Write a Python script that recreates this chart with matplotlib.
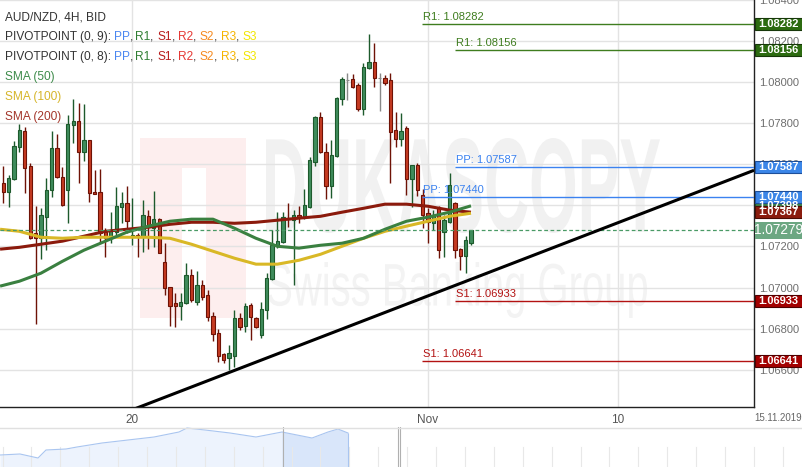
import numpy as np
import matplotlib
matplotlib.use("Agg")
import matplotlib.pyplot as plt
import matplotlib.transforms as mtransforms
from matplotlib.patches import Rectangle, PathPatch
from matplotlib.textpath import TextPath
from matplotlib.font_manager import FontProperties

plt.rcParams['font.family'] = ['Liberation Sans', 'DejaVu Sans']

# ── Candle data (AUD/NZD 4H) ─────────────────────────────────
opens = [1.07508, 1.07464, 1.07528, 1.07683, 1.07761, 1.07591, 1.07265, 1.07240, 1.07343, 1.07474,
         1.07679, 1.07537, 1.07474, 1.07791, 1.07810, 1.07659, 1.07718, 1.07464, 1.07464, 1.07270,
         1.07245, 1.07270, 1.07391, 1.07411, 1.07245, 1.07255, 1.07245, 1.07347, 1.07289, 1.07333,
         1.07123, 1.07002, 1.06924, 1.06909, 1.06924, 1.07060, 1.06929, 1.07011, 1.06963, 1.06860,
         1.06778, 1.06675, 1.06656, 1.06666, 1.06851, 1.06812, 1.06914, 1.06851, 1.06768, 1.06890,
         1.07041, 1.07201, 1.07221, 1.07338, 1.07328, 1.07352, 1.07343, 1.07391, 1.07610, 1.07830,
         1.07659, 1.07494, 1.07640, 1.07917, 1.08010, 1.08015, 1.07985, 1.07869, 1.08068, 1.08097,
         1.08019, 1.08019, 1.08010, 1.07766, 1.07722, 1.07776, 1.07528, 1.07596, 1.07450, 1.07362,
         1.07313, 1.07391, 1.07270, 1.07318, 1.07411, 1.07187, 1.07153, 1.07216]
highs = [1.07591, 1.07547, 1.07713, 1.07795, 1.07781, 1.07606, 1.07396, 1.07386, 1.07532, 1.07761,
         1.07747, 1.07586, 1.07839, 1.07917, 1.07898, 1.07893, 1.07718, 1.07571, 1.07576, 1.07289,
         1.07367, 1.07489, 1.07464, 1.07494, 1.07435, 1.07265, 1.07425, 1.07377, 1.07469, 1.07338,
         1.07216, 1.07002, 1.06972, 1.06972, 1.07119, 1.07089, 1.07080, 1.07036, 1.06987, 1.06880,
         1.06797, 1.06680, 1.06719, 1.06890, 1.06875, 1.06924, 1.06924, 1.06856, 1.06929, 1.07070,
         1.07279, 1.07367, 1.07367, 1.07411, 1.07377, 1.07396, 1.07479, 1.07635, 1.07834, 1.07854,
         1.07703, 1.07718, 1.07927, 1.08024, 1.08044, 1.08039, 1.07995, 1.08093, 1.08234, 1.08190,
         1.08044, 1.08034, 1.08044, 1.07854, 1.07849, 1.07786, 1.07596, 1.07606, 1.07479, 1.07386,
         1.07377, 1.07396, 1.07352, 1.07557, 1.07416, 1.07192, 1.07250, 1.07279]
lows = [1.07411, 1.07391, 1.07523, 1.07659, 1.07459, 1.07235, 1.06821, 1.07138, 1.07182, 1.07440,
        1.07532, 1.07396, 1.07313, 1.07703, 1.07508, 1.07615, 1.07416, 1.07455, 1.07216, 1.07148,
        1.07216, 1.07245, 1.07313, 1.07265, 1.07206, 1.07148, 1.07172, 1.07187, 1.07196, 1.07167,
        1.06963, 1.06812, 1.06807, 1.06841, 1.06919, 1.06929, 1.06914, 1.06938, 1.06836, 1.06739,
        1.06636, 1.06632, 1.06597, 1.06612, 1.06792, 1.06783, 1.06744, 1.06802, 1.06753, 1.06846,
        1.07036, 1.07192, 1.07216, 1.07294, 1.07011, 1.07313, 1.07333, 1.07386, 1.07591, 1.07654,
        1.07430, 1.07435, 1.07635, 1.07888, 1.07912, 1.07971, 1.07859, 1.07839, 1.08063, 1.07976,
        1.07859, 1.07985, 1.07508, 1.07683, 1.07688, 1.07450, 1.07391, 1.07445, 1.07289, 1.07216,
        1.07279, 1.07143, 1.07148, 1.07313, 1.07143, 1.07084, 1.07070, 1.07206]
closes = [1.07464, 1.07532, 1.07688, 1.07766, 1.07581, 1.07240, 1.07240, 1.07352, 1.07474, 1.07679,
          1.07537, 1.07401, 1.07795, 1.07810, 1.07659, 1.07718, 1.07459, 1.07455, 1.07265, 1.07240,
          1.07279, 1.07396, 1.07411, 1.07323, 1.07255, 1.07245, 1.07352, 1.07294, 1.07333, 1.07167,
          1.06997, 1.06909, 1.06909, 1.06929, 1.07060, 1.06938, 1.07011, 1.06953, 1.06856, 1.06773,
          1.06666, 1.06646, 1.06680, 1.06851, 1.06807, 1.06909, 1.06856, 1.06807, 1.06895, 1.07045,
          1.07206, 1.07226, 1.07343, 1.07333, 1.07352, 1.07343, 1.07401, 1.07620, 1.07830, 1.07659,
          1.07494, 1.07644, 1.07922, 1.08015, 1.08010, 1.07976, 1.07869, 1.08073, 1.08097, 1.08019,
          1.08019, 1.07995, 1.07757, 1.07722, 1.07761, 1.07528, 1.07596, 1.07474, 1.07352, 1.07318,
          1.07352, 1.07182, 1.07328, 1.07498, 1.07182, 1.07153, 1.07231, 1.07279]

# ── Moving averages, read at candle positions ────────────────
sma_idx = [-0.6, 3, 7, 11, 15, 19, 23, 27, 31, 35, 39, 43, 47, 51, 55, 59, 63, 67, 71, 75, 79, 83, 87]
sma50 = [1.07007, 1.07031, 1.07070, 1.07128, 1.07182, 1.07226, 1.07270, 1.07299, 1.07323, 1.07333,
         1.07333, 1.07289, 1.07240, 1.07201, 1.07192, 1.07206, 1.07216, 1.07240, 1.07284, 1.07323,
         1.07343, 1.07367, 1.07398]
sma100 = [1.07284, 1.07274, 1.07245, 1.07240, 1.07245, 1.07245, 1.07245, 1.07245, 1.07240, 1.07211,
          1.07177, 1.07143, 1.07114, 1.07114, 1.07133, 1.07162, 1.07201, 1.07240, 1.07274, 1.07299,
          1.07323, 1.07347, 1.07362]
sma200 = [1.07187, 1.07196, 1.07211, 1.07226, 1.07250, 1.07274, 1.07284, 1.07294, 1.07308, 1.07318,
          1.07318, 1.07313, 1.07318, 1.07328, 1.07338, 1.07347, 1.07367, 1.07386, 1.07406, 1.07406,
          1.07396, 1.07377, 1.07367]

# ── Pivot points and annotations ─────────────────────────────
pivot_names = ['R1', 'PP', 'S1', 'R1', 'PP', 'S1']
pivot_levels = [1.08282, 1.07440, 1.06641, 1.08156, 1.07587, 1.06933]
pivot_start = [77.9, 77.9, 77.9, 84.0, 84.0, 84.0]
trend_x = [24.3, 139.64]
trend_y = [1.06408, 1.07571]
last_price = 1.07279

tick_pos = [23.9, 79.0, 114.3]
tick_labels = ['20', 'Nov', '10']

# navigator mini-series
nav_x = [0, 20, 38, 46, 66, 77, 102, 128, 154, 179, 187, 205, 230, 256, 282, 297, 312, 328, 338, 348]
nav_h = [12, 13, 9, 17, 18, 20, 24, 27, 30, 35, 39, 37, 34, 30, 35, 32, 29, 35, 38, 34]

# ── Colours ──────────────────────────────────────────────────
UP_FILL, UP_EDGE = '#3f8c5c', '#1d5a2c'
DN_FILL, DN_EDGE = '#c53b22', '#6e1206'
PIV_COL = {'R1': '#3f7d1f', 'PP': '#3b82f0', 'S1': '#b31212'}

W, H = 803, 467
fig = plt.figure(figsize=(W / 100, H / 100), dpi=100)
ax = fig.add_axes([0, 60 / H, 754 / W, 407 / H])
ax.set_facecolor('white')

# ── Watermark ────────────────────────────────────────────────
def px_box(x0, y0, x1, y1, color):
    r = Rectangle((x0, H - y1), x1 - x0, y1 - y0, transform=mtransforms.IdentityTransform(),
                  facecolor=color, edgecolor='none', zorder=0.1)
    ax.add_artist(r)

def px_text(s, x0, y0, x1, y1, color, weight):
    tp = TextPath((0, 0), s, size=50, prop=FontProperties(family='Liberation Sans', weight=weight))
    e = tp.get_extents()
    tr = (mtransforms.Affine2D().translate(-e.x0, -e.y0)
          .scale((x1 - x0) / e.width, (y1 - y0) / e.height).translate(x0, H - y1))
    ax.add_artist(PathPatch(tp, transform=tr, facecolor=color, edgecolor='none', zorder=0.2))

px_box(140, 138, 246, 318, '#fdeeee')
px_box(182, 168, 206, 318, '#ffffff')
px_text('DUKASCOPY', 266, 138, 660, 233, '#f1f1f1', 'bold')
px_text('Swiss Banking Group', 268, 262, 647, 318, '#f3f3f3', 'normal')

# ── Candles ──────────────────────────────────────────────────
idx = np.arange(len(opens))
o, h, l, c = map(np.array, (opens, highs, lows, closes))
fills, edges = [], []
for oo, cc in zip(o, c):
    if cc > oo:
        fills.append(UP_FILL); edges.append(UP_EDGE)
    elif cc < oo:
        fills.append(DN_FILL); edges.append(DN_EDGE)
    else:
        fills.append('#888888'); edges.append('#888888')
body_lo = np.minimum(o, c)
body_h = np.maximum(np.abs(c - o), 0.00003)
ax.vlines(idx, l, h, colors=edges, linewidth=1.0, zorder=2)
ax.bar(idx, body_h, bottom=body_lo, width=0.62, color=fills, edgecolor=edges,
       linewidth=0.8, zorder=3)

# ── SMA lines ────────────────────────────────────────────────
ax.plot(sma_idx, sma200, color='#8b1a0c', lw=2.2, zorder=4, solid_capstyle='butt')
ax.plot(sma_idx, sma100, color='#d9b826', lw=2.2, zorder=4, solid_capstyle='butt')
ax.plot(sma_idx, sma50, color='#3a8040', lw=2.2, zorder=4, solid_capstyle='butt')

# ── Pivot levels ─────────────────────────────────────────────
xmax = 139.64
for name, lvl, x0 in zip(pivot_names, pivot_levels, pivot_start):
    col = PIV_COL[name]
    ax.hlines(lvl, x0, xmax, colors=col, linewidth=1.0, zorder=5)
    ax.annotate(f'{name}: {lvl:.5f}', (x0, lvl), xytext=(0.5, 1.5), textcoords='offset points',
                color=col, fontsize=8, va='bottom', ha='left', zorder=5)

# current price + trend line
ax.axhline(last_price, color='#4a9a66', lw=0.9, ls=(0, (3, 2)), zorder=4)
ax.plot(trend_x, trend_y, color='black', lw=2.2, zorder=6, solid_capstyle='butt')

# ── Axes styling ─────────────────────────────────────────────
YLIM = (1.064185, 1.084002)
ax.set_xlim(-0.614, xmax)
ax.set_ylim(*YLIM)
ax.set_yticks(np.arange(1.066, 1.0845, 0.002))
ax.yaxis.set_major_formatter(matplotlib.ticker.FormatStrFormatter('%.5f'))
ax.yaxis.tick_right()
ax.tick_params(axis='y', length=0, pad=4, labelsize=8, labelcolor='#6e6e6e')
ax.set_xticks(tick_pos)
ax.set_xticklabels(tick_labels)
ax.tick_params(axis='x', length=0, pad=5, labelsize=8.5, labelcolor='#555555')
ax.set_axisbelow(True)
ax.grid(True, color='#e3e3e3', lw=1)
for s in ('left', 'top'):
    ax.spines[s].set_visible(False)
for s in ('right', 'bottom'):
    ax.spines[s].set_color('#222222')
    ax.spines[s].set_linewidth(1.0)

# ── Right-axis price boxes ───────────────────────────────────
blend = mtransforms.blended_transform_factory(ax.transAxes, ax.transData)
box_vals = [1.08282, 1.08156, 1.07587, 1.07398, 1.07440, 1.07367, 1.06933, 1.06641]
box_face = ['#2c6b10', '#2c6b10', '#3b86e8', '#3a8047', '#3b86e8', '#8a1c0e', '#a30000', '#a30000']
box_edge = ['#17380a', '#17380a', '#1d4f9a', '#1f4d27', '#1d4f9a', '#4a0d05', '#4f0000', '#4f0000']
px_h = 12 / 20550
for v, fc, ec in zip(box_vals, box_face, box_edge):
    ax.add_patch(Rectangle((1.0007, v - px_h / 2), 0.0637, px_h, transform=blend, facecolor=fc,
                           edgecolor=ec, lw=0.8, clip_on=False, zorder=10))
    ax.text(1.0325, v, f'{v:.5f}', transform=blend, ha='center', va='center', color='white',
            fontsize=8, fontweight='bold', clip_on=False, zorder=11)
cur_h = 17 / 20550
ax.add_patch(Rectangle((1.0007, last_price - cur_h / 2), 0.0637, cur_h, transform=blend,
                       facecolor='#6ca782', edgecolor='none', clip_on=False, zorder=10))
ax.text(1.0325, last_price, f'{last_price:.5f}', transform=blend, ha='center', va='center',
        color='white', fontsize=9.8, clip_on=False, zorder=11)
ax.set_ylim(*YLIM)

fig.text(778 / W, 1 - 418 / H, '15.11.2019', ha='center', va='center', fontsize=7, color='#666666')

# ── Legend text at top left ──────────────────────────────────
r = fig.canvas.get_renderer()
ident = mtransforms.IdentityTransform()

def width_of(s, size):
    t = fig.text(0, 0, s + '|', fontsize=size, transform=ident)
    b = fig.text(0, 0, '|', fontsize=size, transform=ident)
    w = t.get_window_extent(r).width - b.get_window_extent(r).width
    t.remove(); b.remove()
    return w

def legend_line(baseline, parts, size=8.6):
    prefix = ''
    for s, col in parts:
        x = 5 + (width_of(prefix, size) if prefix else 0)
        fig.text(x, H - baseline, s, color=col, fontsize=size, va='baseline', ha='left',
                 transform=ident, zorder=20)
        prefix += s

GREY = '#333333'
piv_parts = [('PP', '#4a86f0'), (', ', GREY), ('R1', '#2f7d32'), (', ', GREY), ('S1', '#b71c1c'),
             (', ', GREY), ('R2', '#e53935'), (', ', GREY), ('S2', '#f58a1f'), (', ', GREY),
             ('R3', '#f5b400'), (', ', GREY), ('S3', '#f2e600')]
legend_line(20, [('AUD/NZD, 4H, BID', GREY)])
legend_line(40, [('PIVOTPOINT (0, 9): ', GREY)] + piv_parts)
legend_line(60, [('PIVOTPOINT (0, 8): ', GREY)] + piv_parts)
legend_line(80, [('SMA (50)', '#3d8b4a')])
legend_line(100, [('SMA (100)', '#d6b52a')])
legend_line(120, [('SMA (200)', '#a3362a')])

# ── Navigator ────────────────────────────────────────────────
nav = fig.add_axes([0, 0, 1, 40 / H])
nav.set_xlim(0, W)
nav.set_ylim(0, 40)
nav.axis('off')
for xv in np.arange(2.6, W, 28.9):
    nav.axvline(xv, ymax=0.5, color='#e8e8e8', lw=0.8)
nav.fill_between(nav_x, nav_h, color='#edf3fd', lw=0)
nav.fill_between(nav_x[14:], nav_h[14:], color='#d9e6fa', lw=0)
nav.plot(nav_x, nav_h, color='#a9c5f0', lw=0.8)
nav.vlines([nav_x[-1]], 0, nav_h[-1], color='#a9c5f0', lw=0.8)
nav.axvline(283, color='#b0b0b0', lw=0.8)
nav.axvline(398.5, color='#b0b0b0', lw=0.8)
nav.axvline(400.5, color='#b0b0b0', lw=0.8)
nav.axhline(39.5, color='#e0e0e0', lw=1)

fig.savefig('out.png', dpi=100)
